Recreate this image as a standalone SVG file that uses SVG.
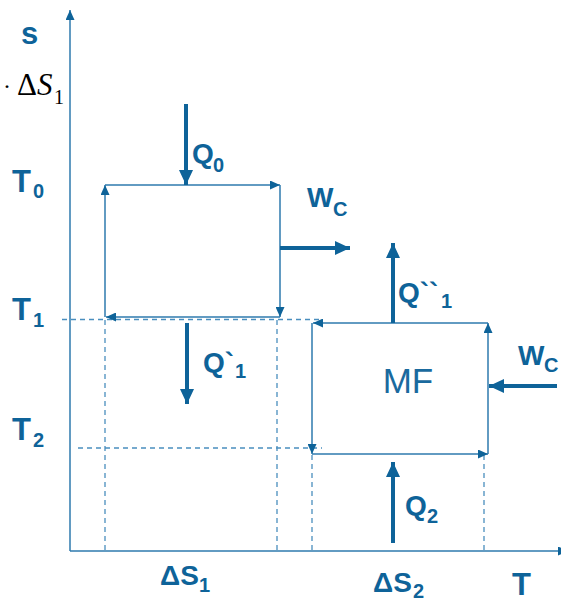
<svg xmlns="http://www.w3.org/2000/svg" width="561" height="601" viewBox="0 0 561 601">
<style>
.lbl{font-family:"Liberation Sans",Arial,sans-serif;font-weight:bold;fill:#0E6399;}
.big{font-size:28px;}
.tl{font-size:31px;}
.sub{font-size:20px;}
.mf{font-family:"Liberation Sans",Arial,sans-serif;font-size:35px;fill:#1A6A9E;}
.thin{stroke:#2E7AAE;stroke-width:1.5;fill:none;}
.dash{stroke:#4A8EBE;stroke-width:1.3;stroke-dasharray:5,4;fill:none;}
.thick{stroke:#0E6399;stroke-width:4;fill:none;}
.ser{font-family:"Liberation Serif","Times New Roman",serif;fill:#000;}
</style>
<defs>
<marker id="ah" markerUnits="userSpaceOnUse" markerWidth="10" markerHeight="9" refX="10" refY="4.5" orient="auto">
<path d="M0,0 L10,4.5 L0,9 z" fill="#0E6399"/>
</marker>
<marker id="ahT" markerUnits="userSpaceOnUse" markerWidth="15" markerHeight="14" refX="15" refY="7" orient="auto">
<path d="M0,0 L15,7 L0,14 z" fill="#0E6399"/>
</marker>
</defs>

<g id="connectors">
<line class="thin" x1="70" y1="551" x2="70" y2="10" marker-end="url(#ah)"/>
<line class="thin" x1="70" y1="551" x2="568" y2="551" marker-end="url(#ah)"/>
<line class="dash" x1="62" y1="319.5" x2="320" y2="319.5"/>
<line class="dash" x1="78" y1="448" x2="322" y2="448"/>
<line class="dash" x1="105" y1="320" x2="105" y2="551"/>
<line class="dash" x1="277" y1="320" x2="277" y2="551"/>
<line class="dash" x1="312" y1="455" x2="312" y2="551"/>
<line class="dash" x1="484" y1="455" x2="484" y2="551"/>
<line class="thin" x1="105" y1="317" x2="105" y2="185" marker-end="url(#ah)"/>
<line class="thin" x1="105" y1="185" x2="280" y2="185" marker-end="url(#ah)"/>
<line class="thin" x1="280" y1="185" x2="280" y2="317" marker-end="url(#ah)"/>
<line class="thin" x1="280" y1="317" x2="106" y2="317" marker-end="url(#ah)"/>
<line class="thin" x1="488" y1="323" x2="313" y2="323" marker-end="url(#ah)"/>
<line class="thin" x1="312" y1="323" x2="312" y2="454" marker-end="url(#ah)"/>
<line class="thin" x1="312" y1="454" x2="488" y2="454" marker-end="url(#ah)"/>
<line class="thin" x1="488" y1="454" x2="488" y2="323" marker-end="url(#ah)"/>
<line class="thick" x1="186" y1="104" x2="186" y2="185" marker-end="url(#ahT)"/>
<line class="thick" x1="280" y1="248" x2="350" y2="248" marker-end="url(#ahT)"/>
<line class="thick" x1="393" y1="323" x2="393" y2="243" marker-end="url(#ahT)"/>
<line class="thick" x1="187" y1="323" x2="187" y2="404" marker-end="url(#ahT)"/>
<line class="thick" x1="557" y1="386" x2="489" y2="386" marker-end="url(#ahT)"/>
<line class="thick" x1="393" y1="543" x2="393" y2="462" marker-end="url(#ahT)"/>
</g>

<g id="axis-labels">
<text class="lbl" font-size="31" x="21" y="44">s</text>
<text class="lbl tl" x="512" y="595">T</text>
<text class="ser" x="3" y="94" font-size="24">·</text>
<text class="ser" x="17" y="95" font-size="31">Δ<tspan font-style="italic">S</tspan></text>
<text class="ser" x="54" y="104" font-size="20">1</text>
</g>

<g id="T0"><text class="lbl tl" x="12" y="192">T</text><text class="lbl sub" x="33" y="198">0</text></g>
<g id="T1"><text class="lbl tl" x="12" y="320">T</text><text class="lbl sub" x="33" y="327">1</text></g>
<g id="T2"><text class="lbl tl" x="12" y="440">T</text><text class="lbl sub" x="33" y="447">2</text></g>

<g id="Q0"><text class="lbl big" x="192" y="163">Q</text><text class="lbl sub" x="213" y="172">0</text></g>
<g id="Wc1"><text class="lbl big" x="307" y="207">W</text><text class="lbl sub" x="333" y="216">C</text></g>
<g id="Q1pp"><text class="lbl big" x="398" y="302">Q``</text><text class="lbl sub" x="441" y="308">1</text></g>
<g id="Q1p"><text class="lbl big" x="203" y="372">Q`</text><text class="lbl sub" x="235" y="378">1</text></g>
<g id="MF"><text class="mf" x="408" y="393" text-anchor="middle">MF</text></g>
<g id="Wc2"><text class="lbl big" x="518" y="365">W</text><text class="lbl sub" x="544" y="372">C</text></g>
<g id="Q2"><text class="lbl big" x="405" y="515">Q</text><text class="lbl sub" x="427" y="523">2</text></g>
<g id="dS1"><text class="lbl big" x="160" y="585">ΔS</text><text class="lbl sub" x="199" y="592">1</text></g>
<g id="dS2"><text class="lbl big" x="373" y="592">ΔS</text><text class="lbl sub" x="413" y="598">2</text></g>
</svg>
